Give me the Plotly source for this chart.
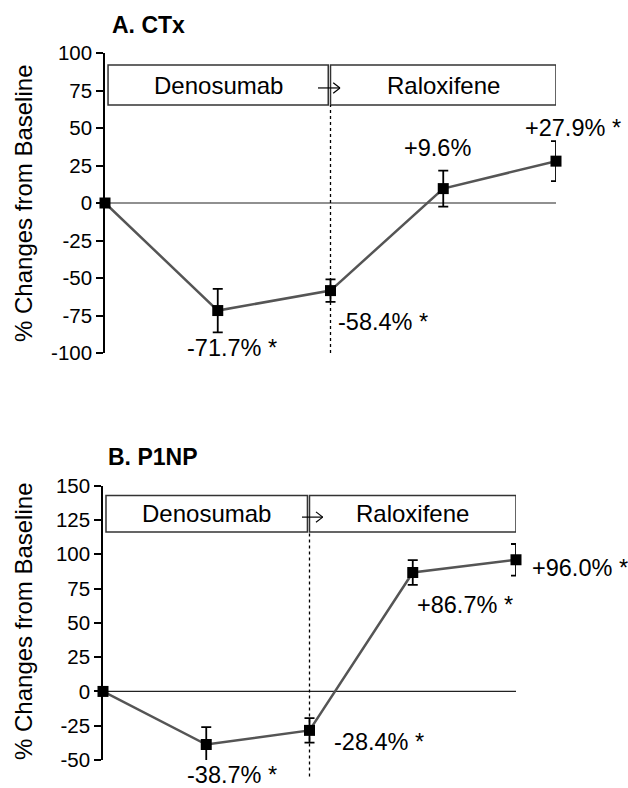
import plotly.graph_objects as go

# ---------------- data ----------------
timepoints = [0, 1, 2, 3, 4]
ctx_values = [0, -71.7, -58.4, 9.6, 27.9]
ctx_err = [0, 14.5, 7.5, 12.0, 13.3]
ctx_labels = ["", "-71.7% *", "-58.4% *", "+9.6%", "+27.9% *"]

p1np_values = [0, -38.7, -28.4, 86.7, 96.0]
p1np_err = [0, 12.7, 9.0, 9.0, 11.5]
p1np_labels = ["", "-38.7% *", "-28.4% *", "+86.7% *", "+96.0% *"]

ctx_ticks = [100, 75, 50, 25, 0, -25, -50, -75, -100]
p1np_ticks = [150, 125, 100, 75, 50, 25, 0, -25, -50]

FONT = "Liberation Sans, Arial, sans-serif"
W, H = 628, 788
ML, MR, MT, MB = 103, 72, 53, 28
PW = W - ML - MR
PH = H - MT - MB

XR = [0, 4]
YRA = [-100, 100]
YRB = [-50, 150]
xdomA = [(105 - ML) / PW, 1.0]
xdomB = [0.0, (516 - ML) / PW]
ydomA = [(760 - 353) / PH, 1.0]
ydomB = [0.0, (760 - 485.7) / PH]


def to_paper(v, dom, rng):
    return dom[0] + (v - rng[0]) / (rng[1] - rng[0]) * (dom[1] - dom[0])


def px_to_paper_x(px):
    return (px - ML) / PW


def px_to_paper_y(py):
    return (H - MB - py) / PH


fig = go.Figure()

for vals, errs, xa, ya in [(ctx_values, ctx_err, "x", "y"), (p1np_values, p1np_err, "x2", "y2")]:
    fig.add_trace(go.Scatter(
        x=timepoints, y=vals, xaxis=xa, yaxis=ya,
        mode="lines+markers",
        line=dict(color="#555555", width=2.5),
        marker=dict(symbol="square", size=11, color="black"),
        error_y=dict(type="data", array=errs, visible=True, color="black", thickness=1.8, width=5),
        cliponaxis=False, showlegend=False,
    ))

annotations = []
shapes = []

# value labels (paper coords derived from data coords so they may sit outside the ranges)
label_pos_A = [None, (1.126, -96.7, "center"), (2.049, -79.3, "left"), (2.953, 36.7, "center"), (3.707, 50, "left")]
label_pos_B = [None, (1.249, -61.0, "center"), (2.218, -36.7, "left"), (3.022, 63.2, "left"), (4.135, 90.2, "left")]
for labels, poss, xd, yd, yr in [(ctx_labels, label_pos_A, xdomA, ydomA, YRA),
                                  (p1np_labels, label_pos_B, xdomB, ydomB, YRB)]:
    for lab, pos in zip(labels, poss):
        if pos is None:
            continue
        annotations.append(dict(text=lab, x=to_paper(pos[0], xd, XR), y=to_paper(pos[1], yd, yr),
                                xref="paper", yref="paper",
                                xanchor=pos[2], yanchor="middle", showarrow=False,
                                font=dict(family=FONT, size=23.5, color="black")))

# treatment boxes
boxes = [("x", "y", 65.3, 92.0, 0.027, 1.98, 2.0, 4.0, 76.7, 1.889, 2.084),
         ("x2", "y2", 116.2, 142.9, 0.029, 1.98, 2.0, 4.0, 127.1, 1.927, 2.128)]
for xr, yr, y0, y1, d0, d1, r0, r1, ay, ax0, ax1 in boxes:
    shapes.append(dict(type="rect", xref=xr, yref=yr, x0=d0, x1=d1, y0=y0, y1=y1,
                       line=dict(color="#333333", width=1.5), fillcolor="white", layer="above"))
    shapes.append(dict(type="rect", xref=xr, yref=yr, x0=r0, x1=r1, y0=y0, y1=y1,
                       line=dict(color="#333333", width=1.5), fillcolor="rgba(0,0,0,0)", layer="above"))
    annotations.append(dict(text="Denosumab", x=(d0 + d1) / 2, y=(y0 + y1) / 2, xref=xr, yref=yr,
                            showarrow=False, font=dict(family=FONT, size=24, color="black")))
    annotations.append(dict(text="Raloxifene", x=(r0 + r1) / 2, y=(y0 + y1) / 2, xref=xr, yref=yr,
                            showarrow=False, font=dict(family=FONT, size=24, color="black")))
    # arrow shaft
    shapes.append(dict(type="line", xref=xr, yref=yr, x0=ax0, x1=ax1, y0=ay, y1=ay,
                       line=dict(color="black", width=1.2)))
    # zero line
    shapes.append(dict(type="line", xref=xr, yref=yr, x0=0, x1=4, y0=0, y1=0,
                       line=dict(color="#222222", width=1.2), layer="below"))

# arrow chevrons
for xr, yr, ay, tip, dx, dy in [("x", "y", 76.7, 2.084, 0.06, 3.5), ("x2", "y2", 127.1, 2.128, 0.065, 3.8)]:
    for s in (1, -1):
        shapes.append(dict(type="line", xref=xr, yref=yr, x0=tip - dx, x1=tip, y0=ay + s * dy, y1=ay,
                           line=dict(color="black", width=1.2)))

# dotted vertical separators (x = 2)
shapes.append(dict(type="line", xref="x", yref="y", x0=2, x1=2, y0=-100, y1=65.3,
                   line=dict(color="black", width=1.3, dash="dot")))
xpB = to_paper(2, xdomB, XR)
shapes.append(dict(type="line", xref="paper", yref="paper", x0=xpB, x1=xpB,
                   y0=to_paper(-62, ydomB, YRB), y1=to_paper(116.2, ydomB, YRB),
                   line=dict(color="black", width=1.3, dash="dot")))

# panel titles
annotations.append(dict(text="<b>A. CTx</b>", x=px_to_paper_x(110), y=px_to_paper_y(25), xref="paper", yref="paper",
                        xanchor="left", yanchor="middle", showarrow=False,
                        font=dict(family=FONT, size=23, color="black")))
annotations.append(dict(text="<b>B. P1NP</b>", x=px_to_paper_x(106), y=px_to_paper_y(457), xref="paper", yref="paper",
                        xanchor="left", yanchor="middle", showarrow=False,
                        font=dict(family=FONT, size=23, color="black")))
# y-axis titles
for cy in (204, 622):
    annotations.append(dict(text="% Changes from Baseline", x=px_to_paper_x(23), y=px_to_paper_y(cy),
                            xref="paper", yref="paper", xanchor="center", yanchor="middle",
                            textangle=-90, showarrow=False,
                            font=dict(family=FONT, size=24, color="black")))

axis_common = dict(showline=True, linecolor="black", linewidth=1.5, ticks="outside", ticklen=7,
                   tickwidth=1.5, tickcolor="black", showgrid=False, zeroline=False,
                   tickfont=dict(family=FONT, size=20.5, color="black"))
xaxis_common = dict(showline=False, showticklabels=False, ticks="", showgrid=False, zeroline=False,
                    range=XR, fixedrange=True)

fig.update_layout(
    width=W, height=H,
    margin=dict(l=ML, r=MR, t=MT, b=MB),
    paper_bgcolor="white", plot_bgcolor="white",
    xaxis=dict(domain=xdomA, anchor="y", **xaxis_common),
    yaxis=dict(domain=ydomA, anchor="x", range=YRA, tickvals=ctx_ticks,
               ticktext=[str(t) for t in ctx_ticks], **axis_common),
    xaxis2=dict(domain=xdomB, anchor="y2", **xaxis_common),
    yaxis2=dict(domain=ydomB, anchor="x2", range=YRB, tickvals=p1np_ticks,
                ticktext=[str(t) for t in p1np_ticks], **axis_common),
    shapes=shapes, annotations=annotations,
    showlegend=False,
)

fig.write_html("out.html", config={"displayModeBar": False},
               post_script="document.body.style.margin='0';document.body.style.overflow='hidden';")
